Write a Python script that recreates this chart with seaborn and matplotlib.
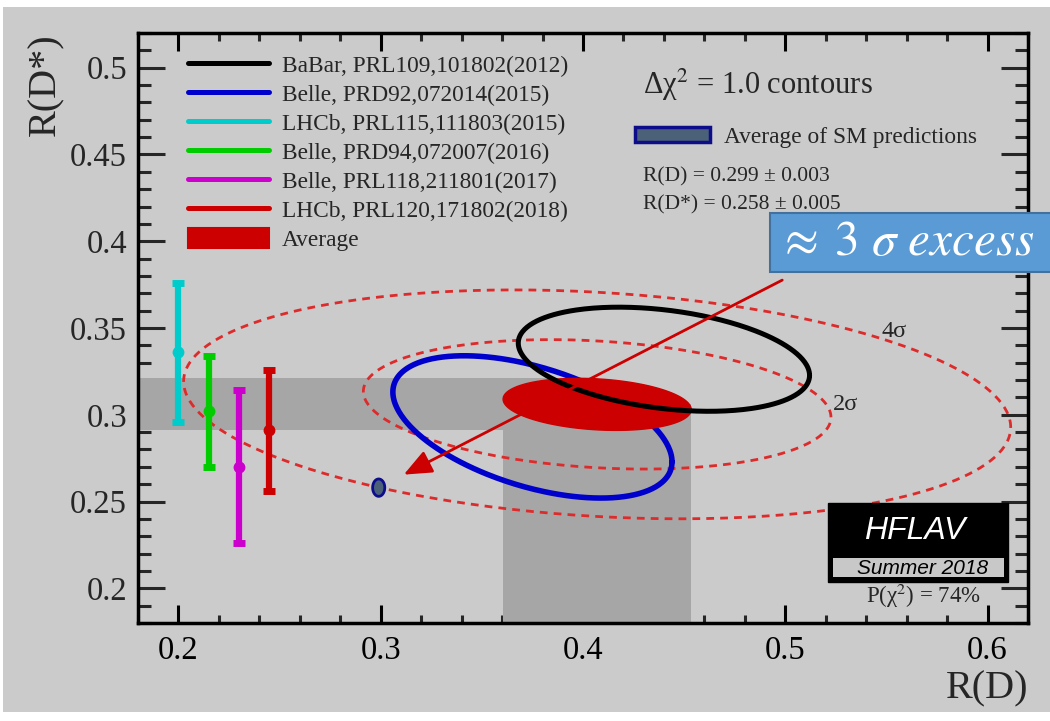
import numpy as np
import matplotlib
matplotlib.use("Agg")
import matplotlib.pyplot as plt
import seaborn as sns
from matplotlib.lines import Line2D
from matplotlib.patches import Patch, Rectangle
from matplotlib.ticker import FixedLocator, FixedFormatter, MultipleLocator

# ------------------------------------------------------------------ data
# 2D measurements: R(D), R(D*), total uncertainties, correlation
ell_names = ["BaBar, PRL109,101802(2012)", "Belle, PRD92,072014(2015)"]
ell_rd = [0.440, 0.375]
ell_rds = [0.332, 0.293]
ell_sig_rd = [0.072, 0.069]
ell_sig_rds = [0.030, 0.041]
ell_rho = [-0.31, -0.49]
ell_colors = ["#000000", "#0000cc"]

# R(D*)-only measurements (plotted at offset R(D) positions)
bar_names = ["LHCb, PRL115,111803(2015)", "Belle, PRD94,072007(2016)",
             "Belle, PRL118,211801(2017)", "LHCb, PRL120,171802(2018)"]
bar_x = [0.200, 0.215, 0.230, 0.245]
bar_y = [0.336, 0.302, 0.270, 0.291]
bar_err = [0.040, 0.032, 0.044, 0.035]
bar_colors = ["#00cccc", "#00cc00", "#cc00cc", "#cc0000"]

# world average
avg_rd, avg_rds = 0.407, 0.306
avg_sig_rd, avg_sig_rds, avg_rho = 0.0465, 0.015, -0.20
contour_labels = ["2σ", "4σ"]
contour_dchi2 = [6.18, 19.33]
contour_label_pos = [(0.530, 0.306), (0.554, 0.348)]

# SM prediction
sm_rd, sm_rds = 0.299, 0.258
sm_sig_rd, sm_sig_rds = 0.003, 0.005

x_ticks = [0.2, 0.3, 0.4, 0.5, 0.6]
x_ticklabels = ["0.2", "0.3", "0.4", "0.5", "0.6"]
y_ticks = [0.2, 0.25, 0.3, 0.35, 0.4, 0.45, 0.5]
y_ticklabels = ["0.2", "0.25", "0.3", "0.35", "0.4", "0.45", "0.5"]
XLIM = (0.18, 0.62)
YLIM = (0.18, 0.52)

arrow_start = (0.4985, 0.3776)
arrow_end = (0.3114, 0.2655)

# ------------------------------------------------------------------ style
sns.set_style("ticks")
plt.rcParams["font.family"] = ["Liberation Serif", "DejaVu Serif"]
plt.rcParams["mathtext.fontset"] = "stix"

BG = "#cbcbcb"
BAND = "#a6a6a6"
DRED = "#dd2b2b"

W, H = 1050, 721
fig = plt.figure(figsize=(W / 100, H / 100), dpi=100)
fig.patch.set_facecolor("white")
fig.patches.append(Rectangle((3 / W, 9 / H), 1 - 3 / W, 705 / H,
                             transform=fig.transFigure, facecolor=BG,
                             edgecolor="none", zorder=-10))
ax = fig.add_axes([138 / W, 1 - 623 / H, 890 / W, 590 / H])
ax.set_facecolor(BG)


def ellipse_points(cx, cy, sx, sy, rho, k=1.0, n=361):
    t = np.linspace(0, 2 * np.pi, n)
    r = np.sqrt(k)
    x = cx + r * sx * np.cos(t)
    y = cy + r * sy * (rho * np.cos(t) + np.sqrt(1 - rho ** 2) * np.sin(t))
    return x, y


# bands of the average
ax.fill_between([XLIM[0], avg_rd], avg_rds - avg_sig_rds, avg_rds + avg_sig_rds,
                color=BAND, lw=0, zorder=1)
ax.fill_betweenx([YLIM[0], avg_rds], avg_rd - avg_sig_rd, avg_rd + avg_sig_rd,
                 color=BAND, lw=0, zorder=1)

# 2 sigma / 4 sigma contours
for k, lab, pos in zip(contour_dchi2, contour_labels, contour_label_pos):
    cx, cy = ellipse_points(avg_rd, avg_rds, avg_sig_rd, avg_sig_rds, avg_rho, k)
    ln, = ax.plot(cx, cy, color=DRED, lw=2.0, zorder=2)
    ln.set_dashes([2.8, 2.2])
    ax.text(pos[0], pos[1], lab, fontsize=17.5, ha="center", va="center", zorder=2)

# Belle 2015 (under the average)
bx, by = ellipse_points(ell_rd[1], ell_rds[1], ell_sig_rd[1], ell_sig_rds[1], ell_rho[1])
sns.lineplot(x=bx, y=by, sort=False, estimator=None, color=ell_colors[1],
             lw=4.0, ax=ax, zorder=3)

# average (filled)
axx, axy = ellipse_points(avg_rd, avg_rds, avg_sig_rd, avg_sig_rds, avg_rho)
ax.fill(axx, axy, facecolor="#cc0000", edgecolor="#cc0000", lw=1, zorder=4)

# BaBar (on top)
kx, ky = ellipse_points(ell_rd[0], ell_rds[0], ell_sig_rd[0], ell_sig_rds[0], ell_rho[0])
sns.lineplot(x=kx, y=ky, sort=False, estimator=None, color=ell_colors[0],
             lw=3.6, ax=ax, zorder=5)

# R(D*)-only measurements
for xv, yv, ev, c in zip(bar_x, bar_y, bar_err, bar_colors):
    ax.errorbar([xv], [yv], yerr=[ev], fmt="o", color=c, ms=7.5, lw=4.5,
                capsize=4.2, capthick=5, zorder=5)

# SM prediction
sx_, sy_ = ellipse_points(sm_rd, sm_rds, sm_sig_rd, sm_sig_rds, 0.0)
ax.fill(sx_, sy_, facecolor="#4b6177", edgecolor="#0d0d8c", lw=2, zorder=5)

# arrow
ax.annotate("", xy=arrow_end, xytext=arrow_start,
            arrowprops=dict(arrowstyle="-|>,head_length=0.85,head_width=0.36",
                            mutation_scale=20, color="#cc0000", lw=2,
                            shrinkA=0, shrinkB=0), zorder=6)

# axes
ax.set_xlim(*XLIM)
ax.set_ylim(*YLIM)
ax.xaxis.set_major_locator(FixedLocator(x_ticks))
ax.xaxis.set_major_formatter(FixedFormatter(x_ticklabels))
ax.yaxis.set_major_locator(FixedLocator(y_ticks))
ax.yaxis.set_major_formatter(FixedFormatter(y_ticklabels))
ax.xaxis.set_minor_locator(MultipleLocator(0.02))
ax.yaxis.set_minor_locator(MultipleLocator(0.01))
ax.tick_params(axis="x", which="major", direction="in", length=13, width=2.2,
               top=True, bottom=True, labelsize=23.5, pad=9, colors="black")
ax.tick_params(axis="x", which="minor", direction="in", length=6, width=2.2,
               top=True, bottom=True)
ax.tick_params(axis="y", which="major", direction="in", length=19.5, width=2.2,
               left=True, right=True, labelsize=23.5, pad=8)
ax.tick_params(axis="y", which="minor", direction="in", length=9.5, width=2.2,
               left=True, right=True)
for s in ax.spines.values():
    s.set_linewidth(2.5)
    s.set_color("black")
    s.set_zorder(8)
ax.set_xlabel("R(D)", fontsize=29, loc="right", labelpad=3)
ax.set_ylabel("R(D*)", fontsize=29, loc="top", labelpad=4)

# legend of measurements
handles = [Line2D([], [], color=c, lw=3.6) for c in ell_colors + bar_colors]
handles.append(Patch(facecolor="#cc0000", edgecolor="#cc0000", lw=1.5,
                     joinstyle="round"))
labels = ell_names + bar_names + ["Average"]
leg = ax.legend(handles, labels, loc="upper left", bbox_to_anchor=(0.0562, 0.9655),
                frameon=False, fontsize=16.8, handlelength=3.45, handleheight=1.0,
                handletextpad=0.56, labelspacing=0.24, borderpad=0,
                borderaxespad=0)
leg.set_zorder(9)
ax.add_artist(leg)

# SM legend
leg2 = ax.legend([Patch(facecolor="#4b6177", edgecolor="#0d0d8c", lw=2.5)],
                 ["Average of SM predictions"], loc="upper left",
                 bbox_to_anchor=(0.5584, 0.8407), frameon=False, fontsize=16.8,
                 handlelength=3.2, handleheight=0.6, handletextpad=0.6,
                 borderpad=0, borderaxespad=0)
leg2.set_zorder(9)

ax.text(0.5674, 0.9119, "Δχ$^2$ = 1.0 contours", transform=ax.transAxes,
        fontsize=22, ha="left", va="center", zorder=9)
ax.text(0.5674, 0.7559, "R(D) = 0.299 ± 0.003", transform=ax.transAxes,
        fontsize=15.5, ha="left", va="center", zorder=9)
ax.text(0.5674, 0.7085, "R(D*) = 0.258 ± 0.005", transform=ax.transAxes,
        fontsize=15.5, ha="left", va="center", zorder=9)

# HFLAV logo
ax.add_patch(Rectangle((0.7753, 0.0695), 0.2022, 0.1339, transform=ax.transAxes,
                       facecolor="black", edgecolor="black", zorder=9))
ax.add_patch(Rectangle((0.7809, 0.0780), 0.1921, 0.0322, transform=ax.transAxes,
                       facecolor="#c8c8c8", edgecolor="none", zorder=10))
ax.text(0.873, 0.156, "HFLAV", transform=ax.transAxes, color="white",
        fontsize=23, fontstyle="italic", family="Liberation Sans",
        ha="center", va="center", zorder=11)
ax.text(0.881, 0.0925, "Summer 2018", transform=ax.transAxes, color="black",
        fontsize=15, fontstyle="italic", family="Liberation Sans",
        ha="center", va="center", zorder=11)
ax.text(0.882, 0.0458, "P(χ$^2$) = 74%", transform=ax.transAxes,
        fontsize=16.5, ha="center", va="center", zorder=11)

# annotation box
fig.patches.append(Rectangle((770 / W, 1 - 272 / H), 285 / W, 59 / H,
                             transform=fig.transFigure, facecolor="#5b9bd5",
                             edgecolor="#41719c", lw=1.5, zorder=10))
fig.text(777 / W, 1 - 243 / H, r"$\approx\;3\ \sigma\ excess$", color="white",
         fontsize=35.5, ha="left", va="center", zorder=11)

fig.savefig("out.png", dpi=100, facecolor=fig.get_facecolor())
